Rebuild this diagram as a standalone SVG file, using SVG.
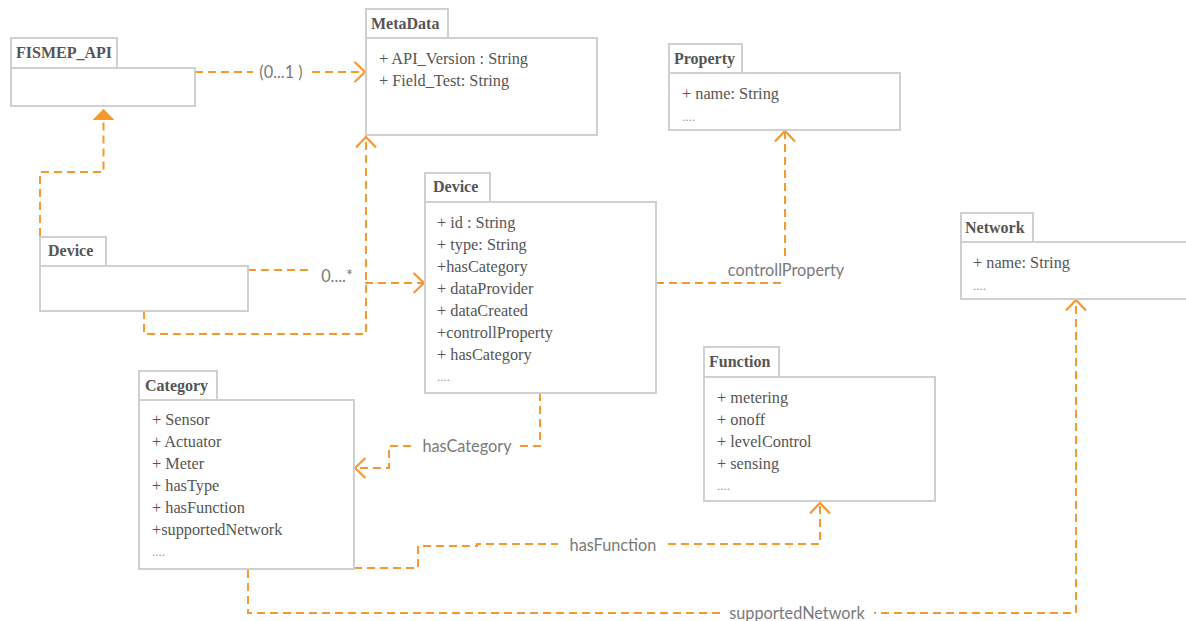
<svg xmlns="http://www.w3.org/2000/svg" width="1186" height="621" viewBox="0 0 1186 621">
<style>
.box{fill:#fff;stroke:#cfcfcf;stroke-width:2}
.title{font-family:"Liberation Serif",serif;font-weight:bold;font-size:16px;fill:#555}
.attr{font-family:"Liberation Serif",serif;font-size:16.3px;fill:#555}
.dots{font-family:"Liberation Serif",serif;font-size:13px;fill:#999}
.conn{fill:none;stroke:#F7972F;stroke-width:2;stroke-dasharray:8 5}
.lbl{font-family:Lato,"Liberation Sans",sans-serif;font-size:16.3px;fill:#7a7a7a;text-anchor:middle}
.lblbg{fill:#fff}
</style>
<defs>
<marker id="open" viewBox="0 0 13 24" refX="11.5" refY="12" markerWidth="13" markerHeight="24" markerUnits="userSpaceOnUse" orient="auto">
<path d="M1,2 L11.5,12 L1,22" fill="none" stroke="#F7972F" stroke-width="2.2"/>
</marker>
<marker id="tri" viewBox="0 0 12 22" refX="11" refY="11" markerWidth="12" markerHeight="22" markerUnits="userSpaceOnUse" orient="auto">
<path d="M0,0 L11,11 L0,22 Z" fill="#F7972F"/>
</marker>
</defs>

<g id="connectors">
<path class="conn" d="M195,72 H365" marker-end="url(#open)"/>
<path class="conn" d="M40,236 V172 H103.5 V109" marker-end="url(#tri)"/>
<path class="conn" d="M144,311 V334 H366 V137" marker-end="url(#open)"/>
<path class="conn" d="M248,270 H338 V283 H424" marker-end="url(#open)"/>
<path class="conn" d="M656,283 H785 V131" marker-end="url(#open)"/>
<path class="conn" d="M540,393 V446 H389 V468 H355" marker-end="url(#open)"/>
<path class="conn" d="M354,568 H418 V546 H477 V544 H820 V503" marker-end="url(#open)"/>
<path class="conn" d="M248,570 V613 H1076 V300" marker-end="url(#open)"/>

<rect class="lblbg" x="253" y="62" width="56" height="20"/>
<text class="lbl" x="281" y="78">(0...1 )</text>
<rect class="lblbg" x="313" y="262" width="48" height="26"/>
<text class="lbl" x="337" y="282">0....*</text>
<rect class="lblbg" x="718" y="258" width="136" height="24"/>
<text class="lbl" x="786" y="276">controllProperty</text>
<rect class="lblbg" x="414" y="436" width="106" height="20"/>
<text class="lbl" x="467" y="452">hasCategory</text>
<rect class="lblbg" x="558" y="534" width="110" height="20"/>
<text class="lbl" x="613" y="551">hasFunction</text>
<rect class="lblbg" x="720" y="603" width="154" height="18"/>
<text class="lbl" x="797" y="619">supportedNetwork</text>
</g>

<g id="fismep_api">
<rect class="box" x="11" y="38" width="106" height="30"/>
<rect class="box" x="11" y="68" width="184" height="38"/>
<text class="title" x="16" y="58">FISMEP_API</text>
</g>

<g id="metadata">
<rect class="box" x="366" y="9" width="82" height="29"/>
<rect class="box" x="366" y="38" width="231" height="97"/>
<text class="title" x="371" y="29">MetaData</text>
<text class="attr" x="379" y="64">+ API_Version : String</text>
<text class="attr" x="379" y="86">+ Field_Test: String</text>
</g>

<g id="property">
<rect class="box" x="669" y="44" width="73" height="29"/>
<rect class="box" x="669" y="73" width="231" height="57"/>
<text class="title" x="674" y="64">Property</text>
<text class="attr" x="682" y="99">+ name: String</text>
<text class="dots" x="682" y="121">....</text>
</g>

<g id="device_left">
<rect class="box" x="40" y="237" width="66" height="29"/>
<rect class="box" x="40" y="266" width="208" height="45"/>
<text class="title" x="48" y="256">Device</text>
</g>

<g id="device">
<rect class="box" x="425" y="173" width="65" height="29"/>
<rect class="box" x="425" y="202" width="231" height="191"/>
<text class="title" x="433" y="192">Device</text>
<text class="attr" x="437" y="228">+ id : String</text>
<text class="attr" x="437" y="250">+ type: String</text>
<text class="attr" x="437" y="272">+hasCategory</text>
<text class="attr" x="437" y="294">+ dataProvider</text>
<text class="attr" x="437" y="316">+ dataCreated</text>
<text class="attr" x="437" y="338">+controllProperty</text>
<text class="attr" x="437" y="360">+ hasCategory</text>
<text class="dots" x="437" y="381">....</text>
</g>

<g id="network">
<rect class="box" x="961" y="213" width="72" height="29"/>
<rect class="box" x="961" y="242" width="240" height="57"/>
<text class="title" x="965" y="233">Network</text>
<text class="attr" x="973" y="268">+ name: String</text>
<text class="dots" x="973" y="290">....</text>
</g>

<g id="category">
<rect class="box" x="139" y="371" width="78" height="29"/>
<rect class="box" x="139" y="400" width="215" height="169"/>
<text class="title" x="145" y="391">Category</text>
<text class="attr" x="152" y="425">+ Sensor</text>
<text class="attr" x="152" y="447">+ Actuator</text>
<text class="attr" x="152" y="469">+ Meter</text>
<text class="attr" x="152" y="491">+ hasType</text>
<text class="attr" x="152" y="513">+ hasFunction</text>
<text class="attr" x="152" y="535">+supportedNetwork</text>
<text class="dots" x="152" y="556">....</text>
</g>

<g id="function">
<rect class="box" x="704" y="347" width="75" height="30"/>
<rect class="box" x="704" y="377" width="231" height="124"/>
<text class="title" x="709" y="367">Function</text>
<text class="attr" x="717" y="403">+ metering</text>
<text class="attr" x="717" y="425">+ onoff</text>
<text class="attr" x="717" y="447">+ levelControl</text>
<text class="attr" x="717" y="469">+ sensing</text>
<text class="dots" x="717" y="490">....</text>
</g>
</svg>
